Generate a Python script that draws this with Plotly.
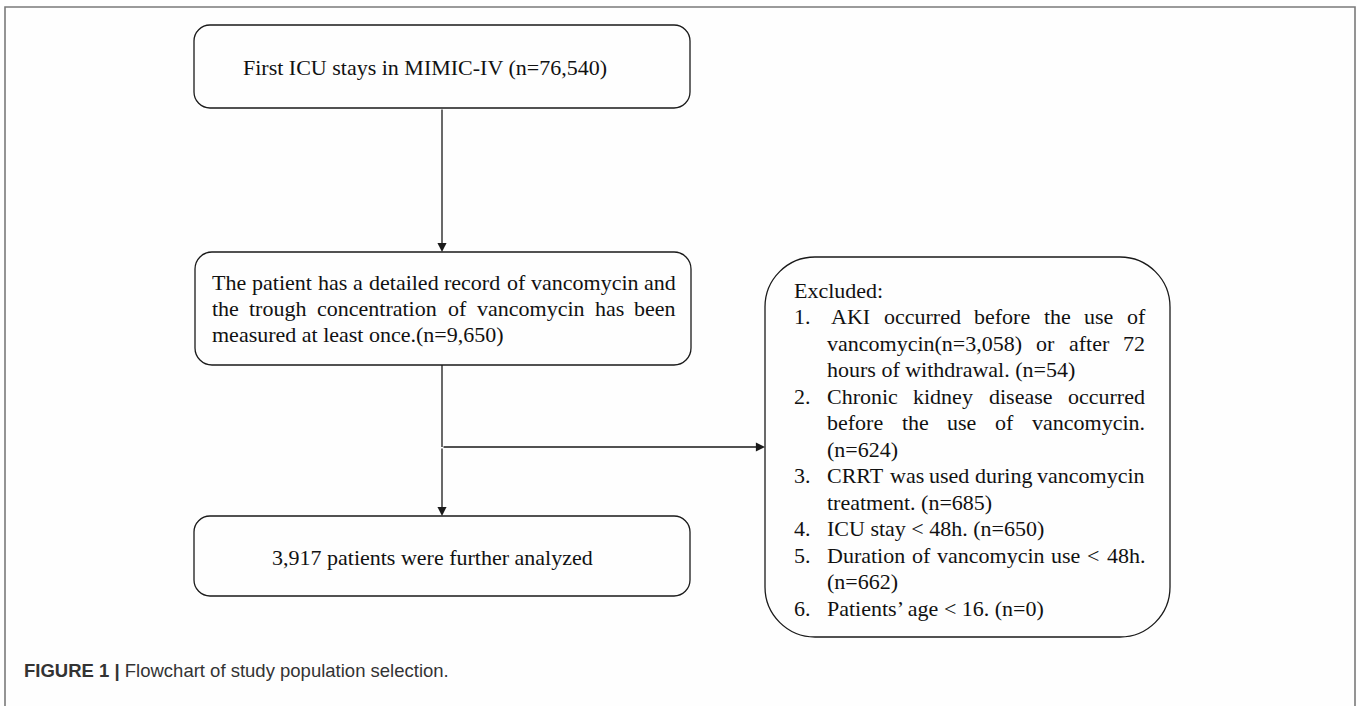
import plotly.graph_objects as go

# ---------------- data ----------------
box_top_text = "First ICU stays in MIMIC-IV (n=76,540)"
box_mid_lines = [
    "The patient has a detailed record of vancomycin and",
    "the trough concentration of vancomycin has been",
    "measured at least once.(n=9,650)",
]
box_bottom_text = "3,917 patients were further analyzed"
excluded_title = "Excluded:"
excluded_numbers = ["1.", "2.", "3.", "4.", "5.", "6."]
excluded_items = [
    ["AKI occurred before the use of", "vancomycin(n=3,058) or after 72", "hours of withdrawal. (n=54)"],
    ["Chronic kidney disease occurred", "before the use of vancomycin.", "(n=624)"],
    ["CRRT was used during vancomycin", "treatment. (n=685)"],
    ["ICU stay < 48h. (n=650)"],
    ["Duration of vancomycin use < 48h.", "(n=662)"],
    ["Patients\u2019 age < 16. (n=0)"],
]
caption_bold = "FIGURE 1 |"
caption_text = " Flowchart of study population selection."

# ---------------- layout helpers ----------------
W, H = 1357, 706
SERIF = "Liberation Serif, Times New Roman, serif"
FS = 22
INK = "#111111"

TIMES = {' ': 250, 'a': 444, 'b': 500, 'c': 444, 'd': 500, 'e': 444, 'f': 333, 'g': 500, 'h': 500,
         'i': 278, 'j': 278, 'k': 500, 'l': 278, 'm': 778, 'n': 500, 'o': 500, 'p': 500, 'q': 500,
         'r': 333, 's': 389, 't': 278, 'u': 500, 'v': 500, 'w': 722, 'x': 500, 'y': 500, 'z': 444,
         'A': 722, 'B': 667, 'C': 667, 'D': 722, 'E': 611, 'F': 556, 'G': 722, 'H': 722, 'I': 333,
         'J': 389, 'K': 722, 'L': 611, 'M': 889, 'N': 722, 'O': 722, 'P': 556, 'Q': 722, 'R': 667,
         'S': 556, 'T': 611, 'U': 722, 'V': 722, 'W': 944, 'X': 722, 'Y': 722, 'Z': 611,
         '(': 333, ')': 333, '=': 564, ',': 250, '.': 250, ':': 278, '<': 564, '\u2019': 333, '-': 333}


def tw(s, size=FS):
    return sum(TIMES.get(ch, 500) for ch in s) / 1000.0 * size


annotations = []


def text_at(x, y, s, anchor="left", size=FS, family=SERIF, color=INK):
    annotations.append(dict(x=x, y=y, xref="x", yref="y", text=s, showarrow=False,
                            xanchor=anchor, yanchor="middle", borderpad=0,
                            font=dict(family=family, size=size, color=color)))


def justified(x0, x1, y, line, justify=True, size=FS):
    words = line.split(" ")
    if not justify or len(words) == 1:
        text_at(x0, y, line, size=size)
        return
    total = sum(tw(w, size) for w in words)
    gap = (x1 - x0 - total) / (len(words) - 1)
    x = x0
    for w in words:
        text_at(x, y, w, size=size)
        x += tw(w, size) + gap


def rrect(x0, y0, x1, y1, r):
    k = 0.5523 * r
    return (f"M{x0 + r},{y0} L{x1 - r},{y0} C{x1 - r + k},{y0} {x1},{y0 + r - k} {x1},{y0 + r} "
            f"L{x1},{y1 - r} C{x1},{y1 - r + k} {x1 - r + k},{y1} {x1 - r},{y1} "
            f"L{x0 + r},{y1} C{x0 + r - k},{y1} {x0},{y1 - r + k} {x0},{y1 - r} "
            f"L{x0},{y0 + r} C{x0},{y0 + r - k} {x0 + r - k},{y0} {x0 + r},{y0} Z")


line_style = dict(color="#1a1a1a", width=1.3)
shapes = []
# outer frame (open at the bottom)
shapes.append(dict(type="path", xref="x", yref="y", path="M5,720 L5,7 L1355,7 L1355,720",
                   line=dict(color="#7a7a7a", width=1.6)))

# boxes
b1 = (194, 25, 690, 108)
b2 = (195, 252, 691, 365)
b3 = (194, 516, 690, 596)
bx = (765, 257, 1170, 637)
for b, r in [(b1, 16), (b2, 17), (b3, 16), (bx, 50)]:
    shapes.append(dict(type="path", xref="x", yref="y", path=rrect(*b, r), line=line_style,
                       fillcolor="rgba(0,0,0,0)"))

cx = 442
split_y = 447
shapes.append(dict(type="line", xref="x", yref="y", x0=cx, y0=b2[3], x1=cx, y1=split_y, line=line_style))


def arrow(x_tail, y_tail, x_tip, y_tip):
    annotations.append(dict(x=x_tip, y=y_tip, ax=x_tail, ay=y_tail, xref="x", yref="y",
                            axref="x", ayref="y", text="", showarrow=True, arrowhead=2,
                            arrowsize=1.4, arrowwidth=1.3, arrowcolor="#1a1a1a", standoff=0))


arrow(cx, b1[3], cx, b2[1])
arrow(cx, split_y, cx, b3[1])
arrow(cx, split_y, bx[0], split_y)

# texts
text_at(425, (b1[1] + b1[3]) / 2 + 1, box_top_text, anchor="center")
mid_y0, mid_dy = 282, 26
for i, ln in enumerate(box_mid_lines):
    justified(211, 675, mid_y0 + i * mid_dy, ln, justify=(i < len(box_mid_lines) - 1))
text_at(432, (b3[1] + b3[3]) / 2 + 1, box_bottom_text, anchor="center")

ex_num_x, ex_txt_x, ex_right = 793, 826, 1144
ex_y0, ex_dy = 290, 26.5
text_at(ex_num_x, ex_y0, excluded_title)
row = 1
for num, lines in zip(excluded_numbers, excluded_items):
    text_at(ex_num_x, ex_y0 + row * ex_dy, num)
    for j, ln in enumerate(lines):
        x0 = ex_txt_x + (4 if (num == "1." and j == 0) else 0)
        justified(x0, ex_right, ex_y0 + row * ex_dy, ln, justify=(j < len(lines) - 1))
        row += 1

annotations.append(dict(x=22, y=670, xref="x", yref="y", showarrow=False, xanchor="left",
                        yanchor="middle",
                        text=f"<b>{caption_bold}</b>{caption_text}",
                        font=dict(family="Liberation Sans, Arial, sans-serif", size=18.5, color="#333333")))

fig = go.Figure()
fig.update_layout(
    width=W, height=H, margin=dict(l=0, r=0, t=0, b=0),
    paper_bgcolor="#fefefe", plot_bgcolor="#fefefe",
    xaxis=dict(range=[0, W], visible=False, fixedrange=True),
    yaxis=dict(range=[H, 0], visible=False, fixedrange=True),
    shapes=shapes, annotations=annotations, showlegend=False,
)
fig.write_html("out.html", config={"displayModeBar": False, "staticPlot": True},
               post_script="document.body.style.margin='0';document.body.style.overflow='hidden';")
